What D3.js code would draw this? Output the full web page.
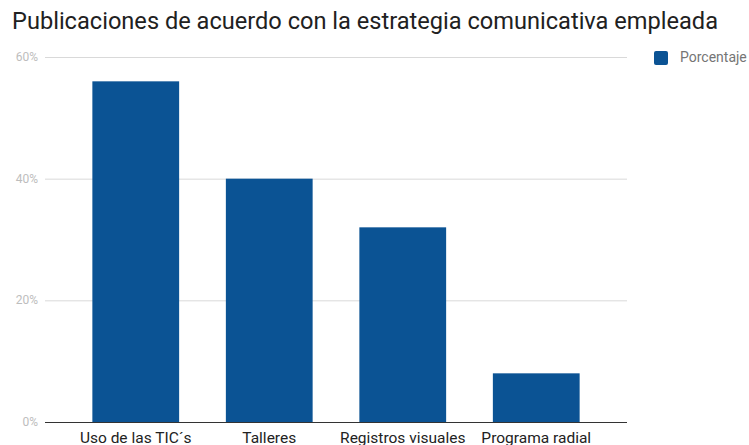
<!DOCTYPE html>
<html>
<head>
<meta charset="utf-8">
<script src="https://cdnjs.cloudflare.com/ajax/libs/d3/7.8.5/d3.min.js"></script>
<style>
  body { margin: 0; background: #fff; }
  svg { font-family: Roboto, "Noto Sans", sans-serif; }
</style>
</head>
<body>
<div id="vis"></div>
<script>
// data
var categories = ["Uso de las TIC´s", "Talleres", "Registros visuales", "Programa radial"];
var values = [56, 40, 32, 8];
var yTicks = [0, 20, 40, 60];
var seriesName = "Porcentaje";

var W = 749, H = 445;
var cfg = {
  gridLeft: 45, gridRight: 627,
  bandLeft: 69, bandRight: 603,
  top: 57, bottom: 422,
  color: "#0b5394"
};

var svg = d3.select("#vis").append("svg")
  .attr("width", W)
  .attr("height", H);

var x = d3.scaleBand()
  .domain(categories)
  .range([cfg.bandLeft, cfg.bandRight])
  .paddingInner(0.35)
  .paddingOuter(0.175);

var y = d3.scaleLinear()
  .domain([0, 60])
  .range([cfg.bottom, cfg.top]);

// title
svg.append("text")
  .attr("x", 12)
  .attr("y", 29)
  .style("font-size", "23.6px")
  .style("fill", "#212121")
  .text("Publicaciones de acuerdo con la estrategia comunicativa empleada");

// gridlines + y labels
var yAxis = svg.append("g");
yAxis.selectAll("line")
  .data(yTicks.filter(function(d){ return d > 0; }))
  .enter().append("line")
  .attr("x1", cfg.gridLeft)
  .attr("x2", cfg.gridRight)
  .attr("y1", function(d){ return y(d) + 0.5; })
  .attr("y2", function(d){ return y(d) + 0.5; })
  .attr("stroke", "#d9d9d9")
  .attr("stroke-width", 1);

yAxis.selectAll("text")
  .data(yTicks)
  .enter().append("text")
  .attr("x", 38)
  .attr("y", function(d){ return y(d) + 4; })
  .attr("text-anchor", "end")
  .style("font-size", "12px")
  .style("fill", "#bdbdbd")
  .text(function(d){ return d + "%"; });

// bars
svg.append("g").selectAll("rect")
  .data(values)
  .enter().append("rect")
  .attr("x", function(d, i){ return x(categories[i]); })
  .attr("y", function(d){ return y(d); })
  .attr("width", x.bandwidth())
  .attr("height", function(d){ return y(0) - y(d); })
  .attr("fill", cfg.color);

// baseline
svg.append("line")
  .attr("x1", cfg.gridLeft)
  .attr("x2", cfg.gridRight)
  .attr("y1", y(0) + 0.5)
  .attr("y2", y(0) + 0.5)
  .attr("stroke", "#333")
  .attr("stroke-width", 1);

// x labels
svg.append("g").selectAll("text")
  .data(categories)
  .enter().append("text")
  .attr("x", function(d){ return x(d) + x.bandwidth() / 2; })
  .attr("y", 443)
  .attr("text-anchor", "middle")
  .style("font-size", "15.5px")
  .style("fill", "#222")
  .text(function(d){ return d; });

// legend
var legend = svg.append("g");
legend.append("rect")
  .attr("x", 654).attr("y", 51)
  .attr("width", 14).attr("height", 14)
  .attr("rx", 2)
  .attr("fill", cfg.color);
legend.append("text")
  .attr("x", 680).attr("y", 62)
  .style("font-size", "14px")
  .style("fill", "#757575")
  .text(seriesName);
</script>
</body>
</html>
